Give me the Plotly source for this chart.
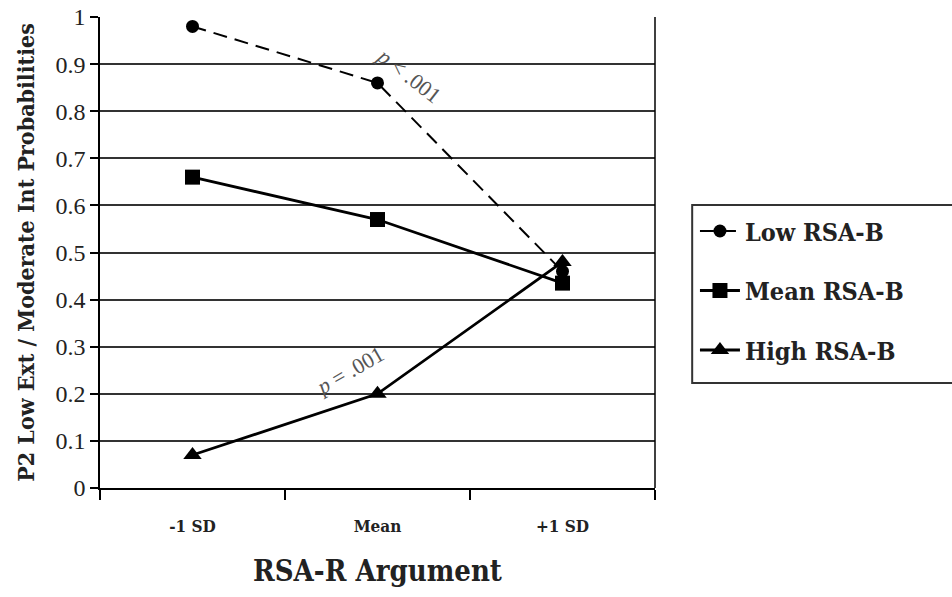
import plotly.graph_objects as go

categories = ["-1 SD", "Mean", "+1 SD"]
low_rsab = [0.98, 0.86, 0.46]
mean_rsab = [0.66, 0.57, 0.435]
high_rsab = [0.07, 0.20, 0.48]
y_ticks = [0, 0.1, 0.2, 0.3, 0.4, 0.5, 0.6, 0.7, 0.8, 0.9, 1]
y_tick_labels = ["0", "0.1", "0.2", "0.3", "0.4", "0.5", "0.6", "0.7", "0.8", "0.9", "1"]
series_names = ["Low RSA-B", "Mean RSA-B", "High RSA-B"]

SERIF = "Liberation Serif"
BSERIF = "DejaVu Serif Condensed, DejaVu Serif"

fig = go.Figure()
fig.add_trace(go.Scatter(
    x=categories, y=low_rsab, name=series_names[0], mode="lines+markers",
    line=dict(color="black", width=2, dash="14px,8px"),
    marker=dict(symbol="circle", size=13, color="black"),
    legendgroup="a"))
fig.add_trace(go.Scatter(
    x=categories, y=mean_rsab, name=series_names[1], mode="lines+markers",
    line=dict(color="black", width=2.8),
    marker=dict(symbol="square", size=15, color="black"),
    legendgroup="b"))
fig.add_trace(go.Scatter(
    x=categories, y=high_rsab, name=series_names[2], mode="lines+markers",
    line=dict(color="black", width=2.8),
    marker=dict(symbol="triangle-up", size=16, color="black"),
    legendgroup="c"))

fig.add_annotation(x=1.17, y=0.875, xref="x", yref="y", text="<i>p</i> < .001",
                   showarrow=False, textangle=38,
                   font=dict(family=SERIF, size=22, color="#555555"))
fig.add_annotation(x=0.85, y=0.25, xref="x", yref="y", text="<i>p</i> = .001",
                   showarrow=False, textangle=-30,
                   font=dict(family=SERIF, size=22, color="#555555"))

fig.update_layout(
    width=952, height=597,
    margin=dict(l=100, r=297, t=17, b=109, autoexpand=False),
    paper_bgcolor="white", plot_bgcolor="white",
    font=dict(family=SERIF, color="black"),
    showlegend=True,
    legend=dict(
        x=1.072, y=0.594, xanchor="left", yanchor="top",
        borderwidth=0, bgcolor="rgba(0,0,0,0)",
        font=dict(family=BSERIF, size=25, color="#222222", weight="bold"),
        traceorder="grouped", tracegroupgap=24,
        itemwidth=40,
    ),
    xaxis=dict(
        type="category", range=[-0.5, 2.5], automargin=False,
        tickson="boundaries", ticks="outside", ticklen=10, tickwidth=1.5, tickcolor="black",
        showline=True, linecolor="black", linewidth=1.5,
        showgrid=False, zeroline=False,
        tickfont=dict(family=BSERIF, size=17, color="#222222", weight="bold"),
        ticklabelstandoff=22,
        title=dict(text="RSA-R Argument", font=dict(family=BSERIF, size=29, color="#222222", weight="bold"), standoff=26),
    ),
    yaxis=dict(
        range=[0, 1], tickvals=y_ticks, ticktext=y_tick_labels, automargin=False,
        ticks="outside", ticklen=8, tickwidth=1.5, tickcolor="black",
        showline=True, linecolor="black", linewidth=1.5,
        showgrid=True, gridcolor="#333333", gridwidth=1.5, zeroline=False,
        tickfont=dict(family=SERIF, size=24, color="#222222"),
        title=dict(text="P2 Low Ext / Moderate Int Probabilities",
                   font=dict(family=BSERIF, size=23, color="#222222", weight="bold"), standoff=14),
    ),
)
fig.add_shape(type="line", xref="paper", yref="paper", x0=1, x1=1, y0=0, y1=1,
              line=dict(color="black", width=1.5))
# legend frame, running off the right edge as in the reference
fig.add_shape(type="rect", xref="paper", yref="paper", x0=1.067, x1=1.6, y0=0.223, y1=0.601,
              line=dict(color="#333333", width=2), fillcolor="rgba(0,0,0,0)", layer="below")

fig.write_html("out.html")
